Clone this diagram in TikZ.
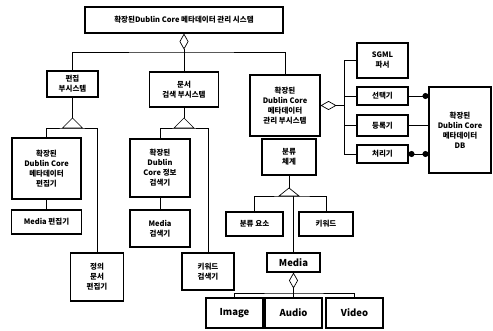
\documentclass[tikz,border=0pt]{standalone}
\usepackage{fontspec}
\setmainfont{Noto Sans CJK KR}
\usetikzlibrary{arrows.meta}
\begin{document}
\begin{tikzpicture}[x=1pt, y=-1pt,
  box/.style={draw, line width=1.1pt, align=center, inner sep=0pt, font=\bfseries\fontsize{7.5}{10}\selectfont},
  bigbox/.style={box, font=\bfseries\fontsize{9.5}{11}\selectfont},
  link/.style={line width=0.7pt},
  agg/.style={link, {Diamond[open,length=16pt,width=9pt]}-}]
\useasboundingbox (0,0) rectangle (493,331);
\node[box, minimum width=198pt, minimum height=26pt] (sys) at (184,20){확장된Dublin Core 메타데이터 관리 시스템};
\node[box, minimum width=51pt, minimum height=26pt] (editsub) at (72.5,84){편집\\부시스템};
\node[box, minimum width=69pt, minimum height=35pt] (docsub) at (184,89.5){문서\\검색 부시스템};
\node[box, minimum width=70pt, minimum height=61pt] (mgmtsub) at (285,105.5){확장된\\Dublin Core\\메타데이터\\관리 부시스템};
\node[box, minimum width=54pt, minimum height=36pt] (cls) at (289,157){분류\\체계};
\node[box, minimum width=51pt, minimum height=35pt] (sgml) at (382.5,60.5){SGML\\파서};
\node[box, minimum width=51pt, minimum height=18pt] (sel) at (382.5,96){선택기};
\node[box, minimum width=51pt, minimum height=21pt] (reg) at (382.5,125.5){등록기};
\node[box, minimum width=51pt, minimum height=18pt] (proc) at (382.5,154){처리기};
\node[box, minimum width=62pt, minimum height=86pt] (db) at (460,130){확장된\\Dublin Core\\메타데이터\\DB};
\node[box, minimum width=57pt, minimum height=24pt] (clsitem) at (254.5,224){분류 요소};
\node[box, minimum width=54pt, minimum height=24pt] (kw) at (326,224){키워드};
\node[bigbox, minimum width=53pt, minimum height=19pt] (media) at (293.5,262.5){Media};
\node[bigbox, minimum width=57pt, minimum height=30pt] (image) at (234.5,313){Image};
\node[bigbox, minimum width=57pt, minimum height=30pt] (audio) at (293.5,313){Audio};
\node[bigbox, minimum width=57pt, minimum height=30pt] (video) at (354.5,313){Video};
\node[box, minimum width=69pt, minimum height=61pt] (dcedit) at (46.5,168.5){확장된\\Dublin Core\\메타데이터\\편집기};
\node[box, minimum width=70pt, minimum height=24pt] (mediaedit) at (46.5,222){Media 편집기};
\node[box, minimum width=53pt, minimum height=48pt] (defedit) at (97,277){정의\\문서\\편집기};
\node[box, minimum width=60pt, minimum height=58pt] (dcsearch) at (160,168){확장된\\Dublin\\Core 정보\\검색기};
\node[box, minimum width=60pt, minimum height=37pt] (mediasearch) at (160,228.5){Media\\검색기};
\node[box, minimum width=52pt, minimum height=37pt] (kwsearch) at (208,271.5){키워드\\검색기};
% top level
\coordinate (bus0) at (184,52);
\draw[agg] (sys) -- (docsub);
\draw[link] (editsub) |- (bus0) -| (mgmtsub);
% generalisations
\coordinate (tri1) at (72.5,118);
\coordinate (tri2) at (184,118);
\coordinate (tri3) at (289,188);
\draw[link] (editsub) -- (tri1);
\draw[link] (docsub) -- (tri2);
\draw[link] (cls) -- (tri3);
\draw[link] (tri1) -- ++(10,10) -- ++(-20,0) -- cycle;
\draw[link] (tri2) -- ++(10,10) -- ++(-20,0) -- cycle;
\draw[link] (tri3) -- ++(10,8) -- ++(-20,0) -- cycle;
\coordinate (bus1) at (72.5,128);
\coordinate (bus2) at (184,128);
\coordinate (bus3) at (293.5,196);
\draw[link] (dcedit) |- (bus1) -| (defedit);
\draw[link] (dcsearch) |- (bus2) -| (kwsearch);
\draw[link] (clsitem) |- (bus3) -| (kw);
\draw[link] (bus3) -- (media);
\draw[link] (dcedit) -- (mediaedit);
\draw[link] (dcsearch) -- (mediasearch);
% media parts
\coordinate (bus4) at (293.5,293);
\draw[agg] (media) -- (bus4);
\draw[link] (image) |- (bus4) -| (video);
\draw[link] (bus4) -- (audio);
% management parts
\coordinate (bus5) at (344,105.5);
\draw[agg] (mgmtsub) -- (bus5);
\draw[link] (bus5) |- (sgml);
\draw[link] (bus5) |- (sel);
\draw[link] (bus5) |- (reg);
\draw[link] (bus5) |- (proc);
\draw[link, -{Circle[length=6pt]}] (sel.east) -- (sel.east -| db.west);
\draw[link] (reg.east) -- (reg.east -| db.west);
\draw[link, {Circle[length=6pt]}-{Circle[length=6pt]}] (proc.east) -- (proc.east -| db.west);
\end{tikzpicture}
\end{document}
